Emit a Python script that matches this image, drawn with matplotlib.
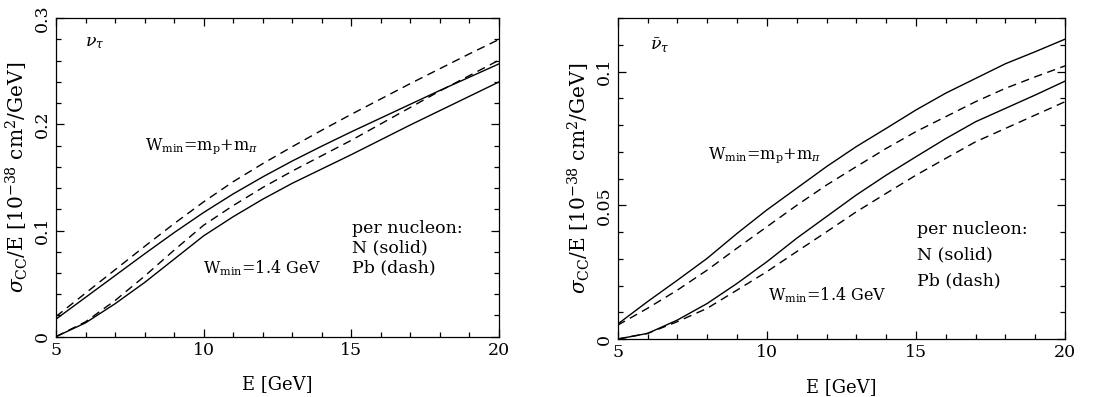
import matplotlib
matplotlib.use("Agg")
import matplotlib.pyplot as plt
from matplotlib.ticker import MultipleLocator, FixedLocator, FuncFormatter

plt.rcParams['font.family'] = ['DejaVu Serif']
plt.rcParams['mathtext.fontset'] = 'dejavuserif'

# Energy grid (GeV)
E = [5, 6, 7, 8, 9, 10, 11, 12, 13, 14, 15, 16, 17, 18, 19, 20]

# nu_tau panel
nu_N_pi = [0.0165, 0.037, 0.0575, 0.078, 0.098, 0.117, 0.1345, 0.1505, 0.1655, 0.1795, 0.193, 0.206, 0.219, 0.232, 0.2445, 0.257]
nu_Pb_pi = [0.019, 0.041, 0.063, 0.085, 0.1065, 0.127, 0.146, 0.163, 0.179, 0.1945, 0.2095, 0.224, 0.2385, 0.2525, 0.2665, 0.280]
nu_N_14 = [0.0, 0.013, 0.031, 0.051, 0.073, 0.095, 0.113, 0.1295, 0.1445, 0.158, 0.1715, 0.1855, 0.1995, 0.213, 0.2265, 0.240]
nu_Pb_14 = [0.0, 0.014, 0.034, 0.057, 0.0815, 0.105, 0.1235, 0.1405, 0.156, 0.1705, 0.185, 0.2005, 0.216, 0.2315, 0.246, 0.2605]

# anti-nu_tau panel
nb_N_pi = [0.0056, 0.014, 0.022, 0.0302, 0.0395, 0.0483, 0.0564, 0.0645, 0.072, 0.0788, 0.0857, 0.092, 0.0975, 0.103, 0.1075, 0.1122]
nb_Pb_pi = [0.0052, 0.0115, 0.0183, 0.0258, 0.034, 0.042, 0.050, 0.0576, 0.0645, 0.0713, 0.0776, 0.0832, 0.0888, 0.0938, 0.0981, 0.1022]
nb_N_14 = [0.0, 0.0021, 0.0071, 0.0133, 0.0208, 0.0289, 0.0377, 0.0458, 0.0539, 0.0613, 0.0682, 0.075, 0.0813, 0.0863, 0.0913, 0.0965]
nb_Pb_14 = [0.0, 0.0021, 0.0065, 0.0115, 0.0183, 0.0252, 0.0327, 0.0401, 0.0476, 0.0545, 0.0613, 0.0676, 0.0738, 0.0788, 0.0838, 0.0888]

x_ticks = [5, 10, 15, 20]
y_ticks_nu = [0, 0.1, 0.2, 0.3]
y_ticks_nb = [0, 0.05, 0.1]

ylabel = r"$\sigma_{\rm CC}$/E [10$^{-38}$ cm$^2$/GeV]"
xlabel = "E [GeV]"
lbl_pi = r"W$_{\rm min}$=m$_{\rm p}$+m$_\pi$"
lbl_14 = r"W$_{\rm min}$=1.4 GeV"
legend_lines = ["per nucleon:", "N (solid)", "Pb (dash)"]

fig = plt.figure(figsize=(11.13, 3.97), dpi=100)
ax1 = fig.add_axes([0.0503, 0.152, 0.398, 0.802])
ax2 = fig.add_axes([0.555, 0.146, 0.402, 0.808])

FS = 12.5
FSW = 11.5
dash = (0, (6, 4))
lw = 1.0


def fmt(v, pos):
    if abs(v) < 1e-12:
        return "0"
    return ("%g" % v)


def style(ax, yt, ymax, yminor):
    ax.set_xlim(5, 20)
    ax.set_ylim(0, ymax)
    ax.xaxis.set_major_locator(FixedLocator(x_ticks))
    ax.xaxis.set_minor_locator(MultipleLocator(1))
    ax.yaxis.set_major_locator(FixedLocator(yt))
    ax.yaxis.set_minor_locator(MultipleLocator(yminor))
    ax.yaxis.set_major_formatter(FuncFormatter(fmt))
    ax.tick_params(which='both', direction='in', top=True, right=True,
                   labelsize=FS, width=0.9)
    ax.tick_params(which='major', length=6)
    ax.tick_params(which='minor', length=3.5)
    ax.tick_params(axis='y', labelrotation=90)
    for lab in ax.get_yticklabels():
        lab.set_va('center')
    for s in ax.spines.values():
        s.set_linewidth(0.9)
    ax.set_xlabel(xlabel, fontsize=13, labelpad=12)
    ax.set_ylabel(ylabel, fontsize=14.5, labelpad=3)


ax1.plot(E, nu_N_pi, 'k-', lw=lw)
ax1.plot(E, nu_Pb_pi, 'k', ls=dash, lw=lw)
ax1.plot(E, nu_N_14, 'k-', lw=lw)
ax1.plot(E, nu_Pb_14, 'k', ls=dash, lw=lw)
style(ax1, y_ticks_nu, 0.3, 0.02)

ax2.plot(E, nb_N_pi, 'k-', lw=lw)
ax2.plot(E, nb_Pb_pi, 'k', ls=dash, lw=lw)
ax2.plot(E, nb_N_14, 'k-', lw=lw)
ax2.plot(E, nb_Pb_14, 'k', ls=dash, lw=lw)
style(ax2, y_ticks_nb, 0.12, 0.01)

ax1.text(0.065, 0.925, r"$\nu_\tau$", transform=ax1.transAxes, fontsize=FS, va='center')
ax2.text(0.072, 0.915, r"$\bar{\nu}_\tau$", transform=ax2.transAxes, fontsize=FS, va='center')

ax1.text(0.20, 0.60, lbl_pi, transform=ax1.transAxes, fontsize=FSW, va='center')
ax1.text(0.332, 0.215, lbl_14, transform=ax1.transAxes, fontsize=FSW, va='center')
ax2.text(0.202, 0.574, lbl_pi, transform=ax2.transAxes, fontsize=FSW, va='center')
ax2.text(0.336, 0.137, lbl_14, transform=ax2.transAxes, fontsize=FSW, va='center')

for ax, ys in ((ax1, (0.34, 0.278, 0.215)), (ax2, (0.34, 0.262, 0.18))):
    for t, y in zip(legend_lines, ys):
        ax.text(0.668, y, t, transform=ax.transAxes, fontsize=FS, va='center')

fig.savefig("out.png", dpi=100)
